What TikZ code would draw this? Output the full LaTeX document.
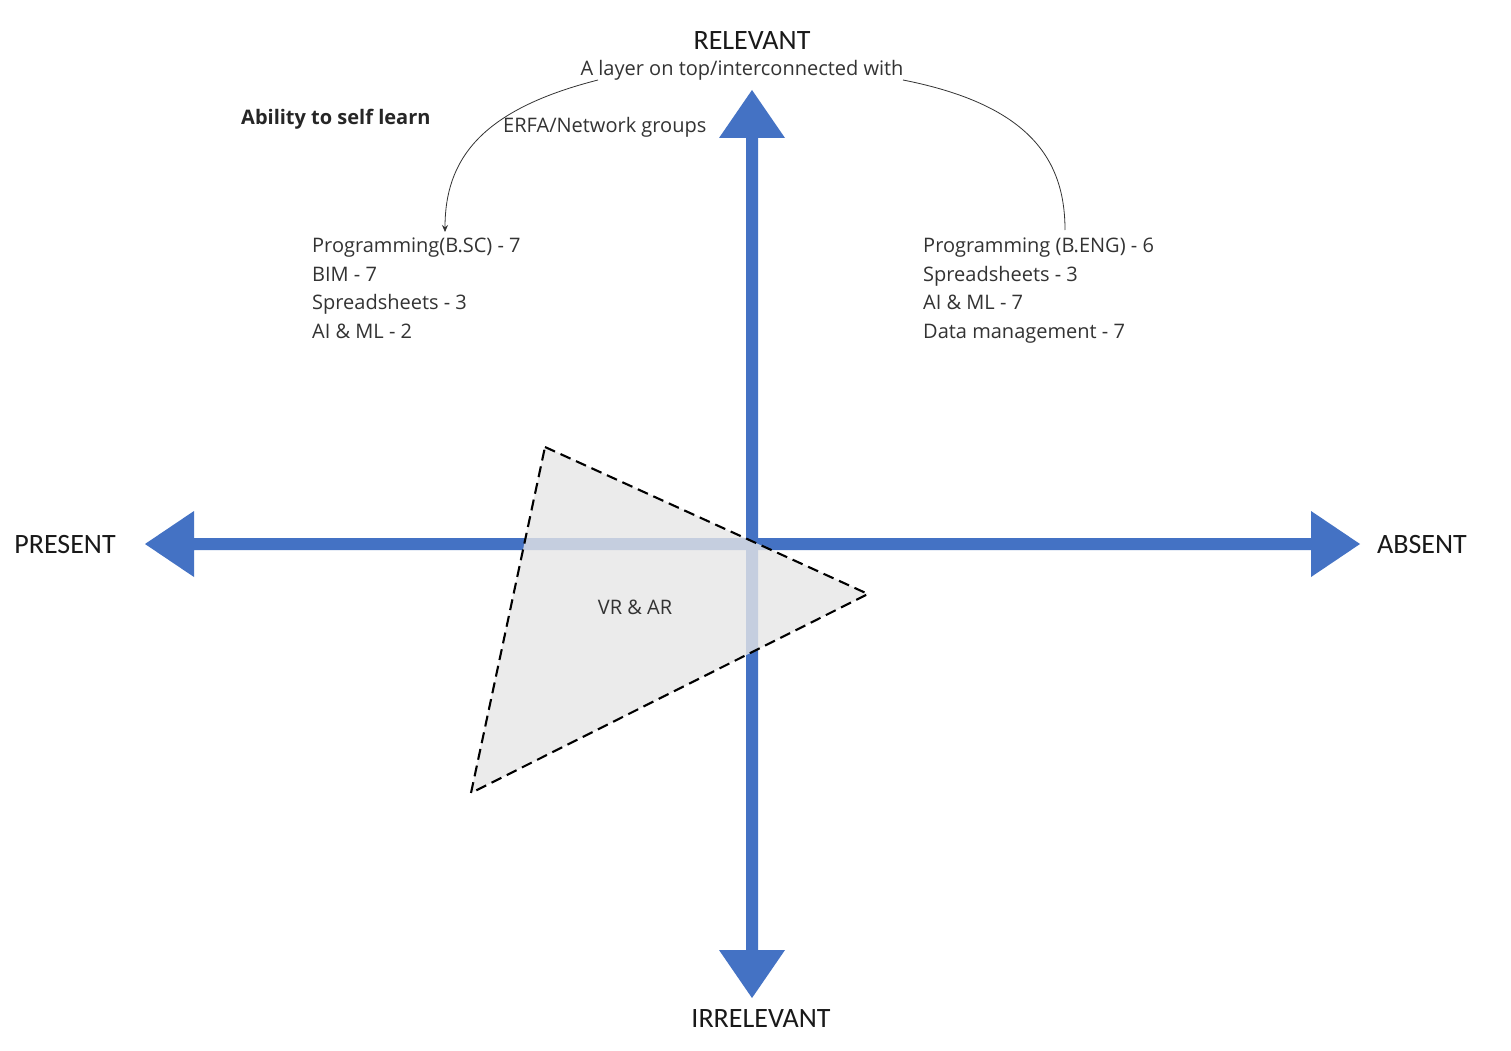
\documentclass[tikz,border=0pt]{standalone}
\usepackage{fontspec}
\setmainfont{Open Sans}
\newfontfamily\labfont{Carlito}
\usetikzlibrary{arrows.meta}
\definecolor{axisblue}{HTML}{4472C4}
\definecolor{txt}{HTML}{333333}
\definecolor{trifill}{HTML}{E6E6E6}
\tikzset{
  body/.style={inner sep=0pt, text=txt, font=\fontsize{20}{28.5}\selectfont, align=left},
  axlabel/.style={inner sep=0pt, text=black!90, font=\labfont\fontsize{28}{30}\selectfont},
  link/.style={draw=txt, line width=0.8pt},
  axisshape/.style={fill=axisblue, draw=none},
  zone/.style={fill=trifill, fill opacity=0.8, draw=black, line width=2.1pt, dash pattern=on 11pt off 6pt}
}
\begin{document}
\begin{tikzpicture}[x=1pt,y=-1pt]
\useasboundingbox (0,0) rectangle (1511,1051);
\fill[white] (0,0) rectangle (1511,1051);
% vertical axis
\path[axisshape] (752,90) -- (785,138) -- (758,138) -- (758,950) -- (785,950) -- (752,998)
  -- (719,950) -- (746,950) -- (746,138) -- (719,138) -- cycle;
% horizontal axis
\path[axisshape] (145,544) -- (194,511) -- (194,538) -- (1311,538) -- (1311,511) -- (1360,544)
  -- (1311,577) -- (1311,550) -- (194,550) -- (194,577) -- cycle;
% zone triangle
\draw[zone] (545,447) -- (868,594) -- (471,793) -- cycle;
\node[body, anchor=center] (vr) at (635,607) {VR \& AR};
% axis labels
\node[axlabel] (rel) at (752,41) {RELEVANT};
\node[axlabel] (irr) at (761,1019) {IRRELEVANT};
\node[axlabel] (pres) at (65,545) {PRESENT};
\node[axlabel] (abs) at (1422,545) {ABSENT};
% texts
\node[body] (layer) at (742,70) {A layer on top/interconnected with};
\node[body, font=\bfseries\fontsize{20}{24}\selectfont, text=black!85, anchor=west] (self) at (241,119) {Ability to self learn};
\node[body, anchor=west] (erfa) at (503,127) {ERFA/Network groups};
\node[body, anchor=north west] (left) at (312,238) {Programming(B.SC) - 7\\BIM - 7\\Spreadsheets - 3\\AI \& ML - 2};
\node[body, anchor=north west] (right) at (923,238) {Programming (B.ENG) - 6\\Spreadsheets - 3\\AI \& ML - 7\\Data management - 7};
% connectors
\coordinate (ls) at (598,80);
\coordinate (le) at (445,232);
\coordinate (rs) at (903,80);
\coordinate (re) at (1065,230);
\draw[link, -{Stealth[length=7pt,width=6pt]}] (ls) .. controls (480,110) and (445,160) .. (le);
\draw[link] (rs) .. controls (1030,105) and (1065,160) .. (re);
\end{tikzpicture}
\end{document}
